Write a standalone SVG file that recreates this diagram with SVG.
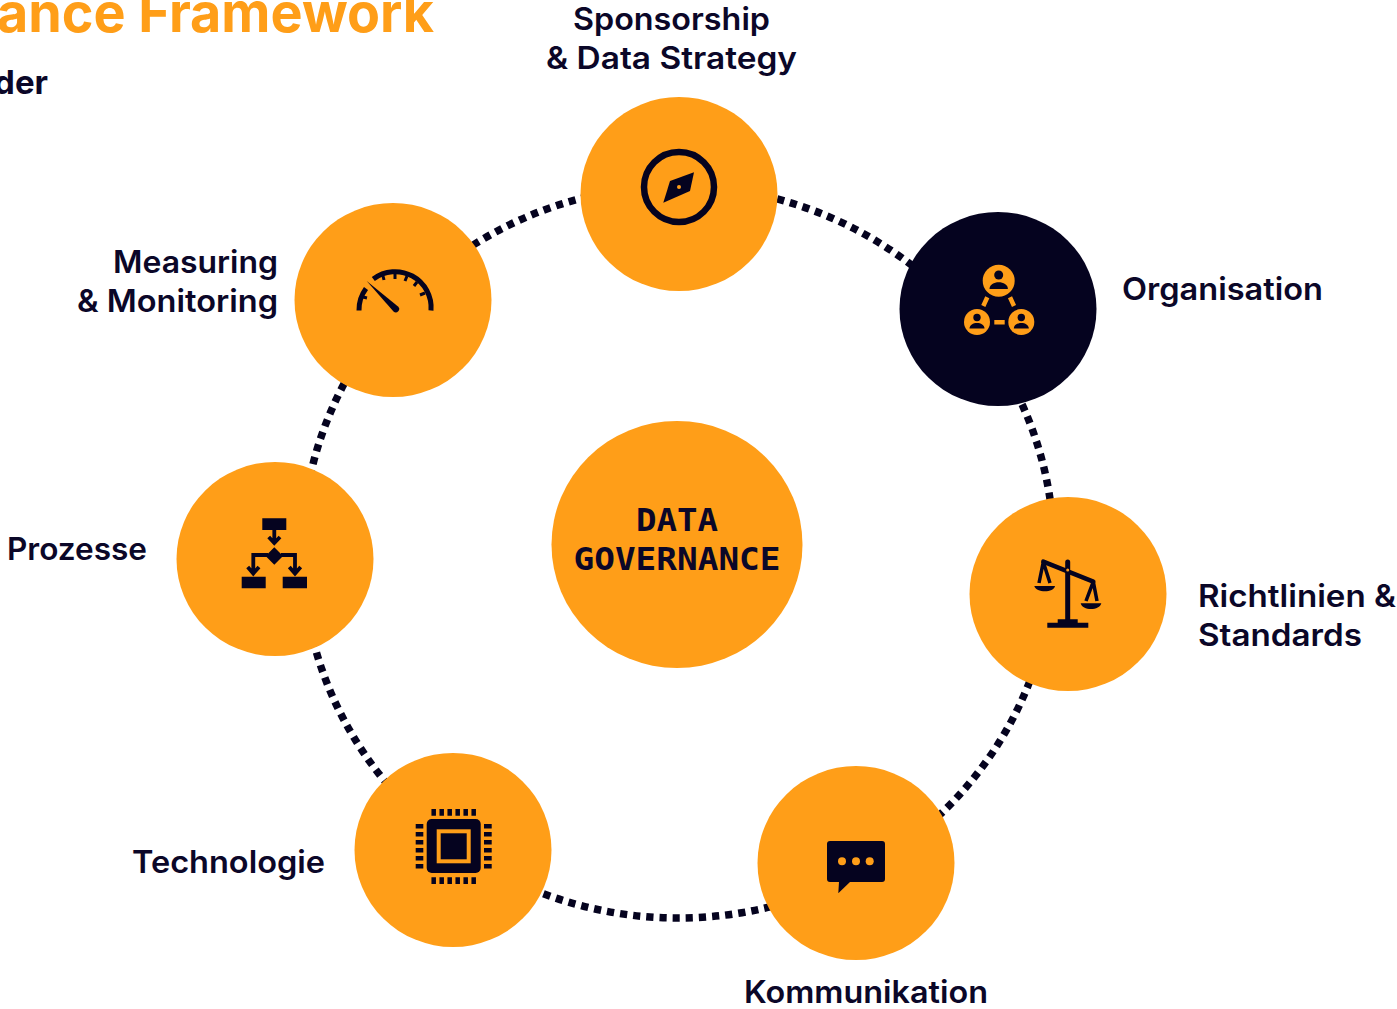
<svg xmlns="http://www.w3.org/2000/svg" width="1397" height="1009" viewBox="0 0 1397 1009">
<style>
.n{fill:#FF9E18}.d{fill:#05031F}
.l{font-family:Inter,"Liberation Sans",sans-serif;font-weight:600;font-size:31px;fill:#0B0728}
.c{font-family:"DejaVu Sans Mono","Liberation Mono",monospace;font-weight:700;font-size:32px;fill:#0B0728;text-anchor:middle}
.s{fill:none;stroke:#05031F;stroke-width:5}
.o{fill:none;stroke:#FF9E18;stroke-width:4.5}
</style>
<rect width="1397" height="1009" fill="#fff"/>
<text x="-3" y="32" textLength="437" lengthAdjust="spacingAndGlyphs" style="font-family:Inter,'Liberation Sans',sans-serif;font-weight:700;font-size:55px;fill:#FF9E18">ance Framework</text>
<text x="48" y="94" text-anchor="end" style="font-family:Inter,'Liberation Sans',sans-serif;font-weight:700;font-size:33px;fill:#0B0728">der</text>
<g id="connectors"><ellipse cx="678" cy="552" rx="376" ry="366" fill="none" stroke="#05031F" stroke-width="7.5" stroke-dasharray="7.2 6"/></g>
<g id="center"><ellipse class="n" cx="677" cy="544.5" rx="125.5" ry="123.5"/><text class="c" x="677" y="531" textLength="82" lengthAdjust="spacingAndGlyphs">DATA</text><text class="c" x="677" y="570" textLength="207" lengthAdjust="spacingAndGlyphs">GOVERNANCE</text></g>
<g id="sponsorship"><ellipse class="n" cx="679" cy="194" rx="98.5" ry="97"/>
<circle cx="679" cy="187" r="35" fill="none" stroke="#05031F" stroke-width="6.5"/><path class="d" d="M694 172.3L690 191L663.3 202.7L670 181Z"/><circle class="n" cx="679" cy="187" r="2"/>
<text class="l" x="573" y="30" textLength="197" lengthAdjust="spacingAndGlyphs">Sponsorship</text><text class="l" x="546" y="69" textLength="251" lengthAdjust="spacingAndGlyphs">&amp; Data Strategy</text></g>
<g id="organisation"><ellipse class="d" cx="998" cy="309" rx="98.5" ry="97"/>
<circle class="n" cx="998.7" cy="280.7" r="16"/><circle class="n" cx="977" cy="322" r="13"/><circle class="n" cx="1021.3" cy="322" r="13"/>
<path class="o" d="M987.3 297.3L983.3 306M1010 297.3L1014 306M994.3 322.3H1004.7"/>
<circle class="d" cx="998.7" cy="275" r="4.5"/><path class="d" d="M989.5 289c0-9 18.4-9 18.4 0z"/>
<circle class="d" cx="977" cy="317.5" r="3.7"/><path class="d" d="M969.5 328.5c0-7.5 15-7.5 15 0z"/>
<circle class="d" cx="1021.3" cy="317.5" r="3.7"/><path class="d" d="M1013.8 328.5c0-7.5 15-7.5 15 0z"/>
<text class="l" x="1122" y="300" textLength="201" lengthAdjust="spacingAndGlyphs">Organisation</text></g>
<g id="richtlinien"><ellipse class="n" cx="1068" cy="594" rx="98.5" ry="97"/>
<path class="d" d="M1065.2 562a2.5 2.5 0 0 1 5 0V619.3H1077.7V622.7H1088.3V627.7H1047.3V622.7H1057.7V619.3H1065.2Z"/>
<path d="M1043.3 561.7L1093.3 581.7" fill="none" stroke="#05031F" stroke-width="4.5" stroke-linecap="round"/>
<path d="M1043.3 562L1039 583M1043.3 562L1050 583M1093.3 581.7L1086 601M1093.3 581.7L1097 601" fill="none" stroke="#05031F" stroke-width="3.5"/>
<path class="d" d="M1034.3 586H1055C1054 593 1036 593 1034.3 586ZM1080.7 603.3H1101.3C1100 611 1082 611 1080.7 603.3Z"/>
<circle class="n" cx="1067.7" cy="570" r="1.5"/>
<text class="l" x="1198" y="607" textLength="198" lengthAdjust="spacingAndGlyphs">Richtlinien &amp;</text><text class="l" x="1198" y="646" textLength="164" lengthAdjust="spacingAndGlyphs">Standards</text></g>
<g id="kommunikation"><ellipse class="n" cx="856" cy="863" rx="98.5" ry="97"/>
<path class="d" d="M830 841H882a3 3 0 0 1 3 3V879a3 3 0 0 1-3 3H850L838.3 893.3L839 882H830a3 3 0 0 1-3-3V844a3 3 0 0 1 3-3Z"/>
<circle class="n" cx="842" cy="861.3" r="4"/><circle class="n" cx="856" cy="861.3" r="4"/><circle class="n" cx="869.7" cy="861.3" r="4"/>
<text class="l" x="744" y="1003" textLength="244" lengthAdjust="spacingAndGlyphs">Kommunikation</text></g>
<g id="technologie"><ellipse class="n" cx="453" cy="850" rx="98.5" ry="97"/>
<rect class="d" x="426.7" y="819" width="54" height="54" rx="5"/><rect x="438.7" y="831.3" width="30" height="30" fill="none" stroke="#FF9E18" stroke-width="4"/>
<path d="M433.7 809v6.7M441.7 809v6.7M449.7 809v6.7M457.7 809v6.7M465.7 809v6.7M473.7 809v6.7M433.7 877.3v6.7M441.7 877.3v6.7M449.7 877.3v6.7M457.7 877.3v6.7M465.7 877.3v6.7M473.7 877.3v6.7M415.7 826.3h7.6M415.7 834.3h7.6M415.7 842.3h7.6M415.7 850.3h7.6M415.7 858.3h7.6M415.7 866.3h7.6M484 826.3h7.7M484 834.3h7.7M484 842.3h7.7M484 850.3h7.7M484 858.3h7.7M484 866.3h7.7" class="s" style="stroke-width:4.5"/>
<text class="l" x="132" y="873" textLength="193" lengthAdjust="spacingAndGlyphs">Technologie</text></g>
<g id="prozesse"><ellipse class="n" cx="275" cy="559" rx="98.5" ry="97"/>
<path class="d" d="M262.3 518.3H286.3V530H262.3ZM241.7 576.7H265.7V588.3H241.7ZM282.7 576.7H307V588.3H282.7ZM274.3 547.3L283 556L274.3 564.7L265.6 556Z"/>
<path class="s" style="stroke-width:3.8" d="M274.3 530V543M268.7 537L274.3 543L280 537M268 555H253.3V573M247.7 567L253.3 573.5L259 567M281 555H295V573M289.3 567L295 573.5L300.7 567"/>
<text class="l" x="7" y="560" textLength="140" lengthAdjust="spacingAndGlyphs">Prozesse</text></g>
<g id="measuring"><ellipse class="n" cx="393" cy="300" rx="98.5" ry="97"/>
<path class="s" d="M373.3 279A36 36 0 0 1 431 310.5M366 288.5A36 36 0 0 0 359 310.5"/>
<path class="s" style="stroke-width:3" d="M395 274v5M407 276l-2 5M417 282l-3 4M425 293l-5 2M383 276l1 4M363 297l4 1"/>
<path class="d" d="M366.7 281L398 306.5A3 3 0 0 1 393.5 311.5Z"/>
<text class="l" x="278" y="273" text-anchor="end" textLength="165" lengthAdjust="spacingAndGlyphs">Measuring</text><text class="l" x="278" y="312" text-anchor="end" textLength="201" lengthAdjust="spacingAndGlyphs">&amp; Monitoring</text></g>
</svg>
